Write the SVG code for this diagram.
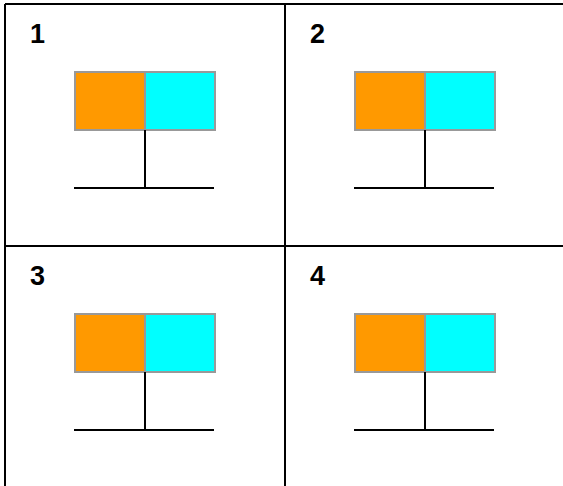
<svg xmlns="http://www.w3.org/2000/svg" width="563" height="486" viewBox="0 0 563 486">
<style>
.grid{stroke:#000;stroke-width:2;fill:none}
.lbl{font-family:"Liberation Sans",Arial,sans-serif;font-weight:bold;font-size:27px;fill:#000}
.o{fill:#ff9900;stroke:#999;stroke-width:2}
.c{fill:#00ffff;stroke:#999;stroke-width:2}
.ln{stroke:#000;stroke-width:2;fill:none}
</style>
<rect width="563" height="486" fill="#fff"/>
<g id="grid" class="grid">
<path d="M5 4H563M5 246H563M5 4V486M285 4V486"/>
</g>
<defs>
<g id="unit">
<rect class="o" x="75" y="72" width="70" height="58"/>
<rect class="c" x="145" y="72" width="70" height="58"/>
</g>
</defs>
<g id="node1">
<text class="lbl" x="30" y="43">1</text>
<use href="#unit"/>
</g>
<g id="node2">
<text class="lbl" x="310" y="43">2</text>
<use href="#unit" x="280"/>
</g>
<g id="node3">
<text class="lbl" x="30" y="285">3</text>
<use href="#unit" y="242"/>
</g>
<g id="node4">
<text class="lbl" x="310" y="285">4</text>
<use href="#unit" x="280" y="242"/>
</g>
<g id="connectors" class="ln">
<path d="M145 130V188M74 188H214"/>
<path d="M425 130V188M354 188H494"/>
<path d="M145 372V430M74 430H214"/>
<path d="M425 372V430M354 430H494"/>
</g>
</svg>
